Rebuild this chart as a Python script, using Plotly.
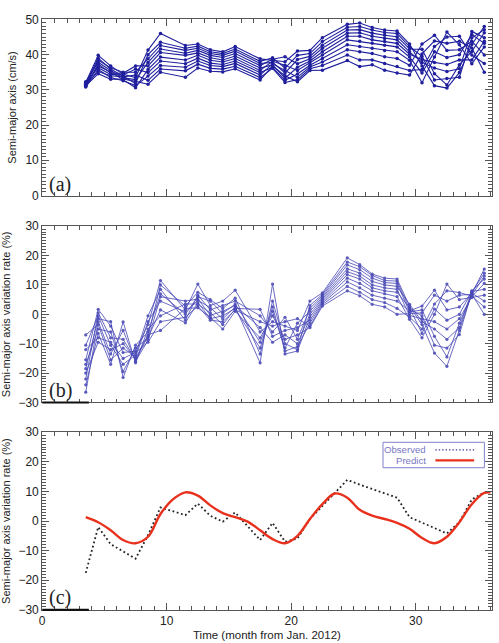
import plotly.graph_objects as go

# ---------------- data ----------------
months = [3.5, 4.5, 5.5, 6.5, 7.5, 8.5, 9.5, 11.5, 12.5, 13.5, 14.5, 15.5,
          17.5, 18.5, 19.5, 20.5, 21.5, 22.5, 24.5, 25.5, 26.5, 27.5, 28.5,
          29.5, 30.5, 31.5, 32.5, 33.5, 34.5, 35.5]

# (a) semi-major axis (cm/s), one list per depth layer
a0 = [32.1,39.8,36.8,34.4,33.5,41.3,46.0,42.6,43.0,41.4,40.8,42.3,38.8,38.4,38.0,41.0,41.2,44.8,48.6,49.0,47.7,47.0,46.7,43.0,36.8,31.2,30.5,34.9,42.9,48.0]
a1 = [31.8,39.0,35.9,33.9,31.8,40.0,43.5,41.8,42.4,40.8,40.3,41.6,38.1,39.1,36.2,39.8,40.3,43.7,47.8,48.0,47.0,46.3,46.0,42.3,39.5,32.8,33.2,33.6,44.8,47.1]
a2 = [31.4,38.4,36.3,35.0,35.0,38.8,42.6,41.2,41.8,40.3,39.8,41.0,37.5,37.8,34.8,38.6,39.5,42.7,47.0,47.1,46.1,45.5,45.1,41.6,41.5,34.6,31.4,37.1,40.9,46.2]
a3 = [32.3,37.8,35.5,33.4,32.9,37.8,41.6,40.4,41.2,39.8,39.2,40.3,36.9,38.7,39.4,37.4,38.8,41.8,46.1,46.2,45.2,44.6,44.2,40.8,37.8,36.2,35.2,36.0,46.6,44.8]
a4 = [31.0,37.3,34.8,34.7,36.8,36.8,40.6,39.8,40.5,39.1,38.5,39.6,36.2,37.1,33.3,36.4,38.2,40.8,45.2,45.2,44.2,43.7,43.2,40.1,38.6,37.8,37.2,38.5,38.5,43.8]
a5 = [31.3,36.8,35.1,32.9,30.6,35.8,39.3,38.5,39.8,38.4,37.9,38.9,35.5,38.1,37.0,35.5,37.6,39.9,44.2,43.8,43.2,42.7,42.2,39.3,34.8,40.8,39.2,40.0,45.7,43.2]
a6 = [31.9,36.3,34.4,34.2,35.9,34.9,38.2,37.4,39.0,37.6,37.2,38.2,34.9,36.4,32.7,34.5,37.0,38.9,42.8,42.3,41.8,41.2,40.8,38.4,32.0,39.3,46.4,42.8,37.4,42.2]
a7 = [30.8,35.8,33.5,32.6,31.2,33.9,36.9,36.4,38.2,36.9,36.6,37.5,34.2,37.4,35.5,33.6,36.5,37.9,41.4,40.8,40.3,39.4,38.9,37.0,43.0,45.5,41.2,41.4,43.8,39.9]
a8 = [31.6,35.2,34.0,33.7,34.2,32.7,35.9,35.4,37.3,36.1,35.9,36.7,33.5,36.1,32.1,32.9,36.0,36.9,39.9,38.5,38.5,37.5,36.6,35.5,35.8,42.3,45.0,45.2,39.9,37.5]
a9 = [31.1,34.6,33.0,33.1,32.4,31.6,35.0,33.6,36.2,35.3,35.1,36.0,32.8,36.8,34.0,32.3,35.5,35.6,38.3,36.6,37.1,35.6,34.8,34.2,40.2,43.9,43.2,43.8,41.9,35.0]

# (b) semi-major axis variation rate (%)
b0 = [-15.5,1.7,-4,-13,-12.5,-3.5,11.5,1.5,10.3,3.0,4.5,8.2,-6.0,-2.5,-4.0,-5.5,4.5,7.3,19.2,16.9,13.7,12.3,12.0,2.8,-3.5,-13.2,-17.7,-5.5,7.0,15.4]
b1 = [-22,0.5,-8,-8.5,-15.5,-7.5,10,2.8,7.5,5.0,2.0,5.5,-13.5,4.5,-10.0,-12.0,3.0,6.8,17.8,16.2,13.2,11.5,11.3,1.8,-0.5,-10.5,-11.5,-6.9,7.5,14.0]
b2 = [-10.5,-0.5,-10.5,-17,-13.8,-0.5,8.5,-2,6.5,1.5,3.0,4.5,-0.5,-6.0,-1.0,-8.5,2.0,6.3,16.8,15.2,12.3,10.8,10.5,0.8,1.5,-7.5,-14.5,-3.0,6.5,13.0]
b3 = [-18.5,-1.5,-2.5,-21.5,-10.5,-6,7,0,6.0,4.5,0.3,3.5,-9.5,1.0,-11.5,-3.0,1.0,5.8,15.5,14.0,11.2,10.0,9.5,3.4,-2.5,-5.0,-8.5,-4.5,8.0,12.0]
b4 = [-26.5,-2.5,-13.5,-5.5,-16,-8.8,6,4.5,5.2,-0.3,1.0,3.0,-4.5,-9.5,-7.0,-10.0,0.0,5.3,14.5,13.0,10.0,9.0,8.5,-0.4,-1.5,-2.5,-5.0,-1.5,6.0,10.5]
b5 = [-7,-3.5,-15.5,-11.5,-14.5,-2.5,4.5,0.8,4.8,2.2,-1.5,2.5,-16.5,10.3,-13.5,-12.5,-1.0,4.8,13.5,12.0,9.0,8.0,7.5,2.2,-6.5,1.8,-2.0,0.0,7.8,8.5]
b6 = [-17,-5,-6,-19.5,-11.5,-8,1.5,-2.9,4.0,-1.5,-0.5,2.0,1.7,-7.5,-5.5,-4.5,-2.0,4.3,12.3,10.5,8.0,7.0,6.0,-1.7,-8.0,0.0,10.3,5.0,5.7,6.5]
b7 = [-24,-6.5,-17,-2.6,-16.5,-5,-0.5,3.5,3.5,0.5,-3.5,1.8,-11.5,2.5,-12.5,-11.0,-3.0,3.8,11.0,9.0,6.5,5.5,4.5,1.2,2.8,8.2,1.5,2.5,7.2,4.5]
b8 = [-12,-8,-9.5,-15,-13,-9.5,-2.5,-1,2.8,-2.0,-2.5,1.5,-2.5,-4.0,-2.5,-1.5,-4.0,3.3,9.5,7.5,5.0,4.0,2.0,-1.0,-5.0,3.5,8.0,7.4,6.2,2.5]
b9 = [-20,-9.5,-12,-10,-15,-7,-5.5,2,2.2,-1,-5.0,1.0,-8.0,-0.5,-8.5,-7.0,-4.5,2.8,8.0,6.3,3.4,2.5,0.0,0.2,0.5,6.5,4.5,6.5,6.8,0.0]

# (c) observed vs predicted variation rate (%)
obs_x = [3.5, 4.5, 5.5, 6.5, 7.5, 8.5, 9.5, 11.5, 12.5, 13.5, 14.5, 15.5, 17.5,
         18.5, 19.5, 20.5, 21.5, 22.5, 24.5, 25.5, 28.5, 29.5, 32.5, 33.5, 34.5, 35.5]
obs_y = [-17.5, -2.0, -7.8, -10.3, -12.7, -4.8, 4.6, 2.0, 5.9, 1.8, -0.2, 2.9, -6.4,
         -0.6, -7.0, -5.9, 0.7, 5.1, 13.9, 12.3, 7.9, 1.3, -4.2, -0.4, 7.3, 9.7]
pred_x = [3.5, 4.5, 5.5, 6.5, 7.5, 8.5, 9.5, 10.5, 11.5, 12.5, 13.5, 14.5, 15.5,
          16.5, 17.5, 18.5, 19.5, 20.5, 21.5, 22.5, 23.5, 24.5, 25.5, 26.5, 27.5,
          28.5, 29.5, 30.5, 31.5, 32.5, 33.5, 34.5, 35.5, 36.0]
pred_y = [1.3, -0.4, -3.1, -6.4, -7.5, -5.3, 2.4, 7.3, 9.7, 8.6, 5.3, 2.7, 1.3,
          -0.2, -3.1, -6.1, -7.5, -5.0, 0.7, 5.7, 9.3, 7.9, 3.8, 1.8, 0.7,
          -0.6, -2.6, -5.7, -7.5, -5.3, -0.4, 5.7, 9.5, 9.7]

x_ticks = [0, 10, 20, 30]
a_ticks = [0, 10, 20, 30, 40, 50]
b_ticks = [-30, -20, -10, 0, 10, 20, 30]

# ---------------- figure ----------------
A = [a0, a1, a2, a3, a4, a5, a6, a7, a8, a9]
B = [b0, b1, b2, b3, b4, b5, b6, b7, b8, b9]

fig = go.Figure()
cA = "#1f1f9e"
cB = "#4a4ab8"
for s in A:
    fig.add_trace(go.Scatter(x=months, y=s, xaxis="x", yaxis="y", mode="lines+markers",
                             line=dict(color=cA, width=1.1), marker=dict(size=3.5, color=cA),
                             showlegend=False, hoverinfo="skip"))
for s in B:
    fig.add_trace(go.Scatter(x=months, y=s, xaxis="x2", yaxis="y2", mode="lines+markers",
                             line=dict(color=cB, width=0.9), marker=dict(size=3.2, color=cB),
                             opacity=0.9, showlegend=False, hoverinfo="skip"))
fig.add_trace(go.Scatter(x=obs_x, y=obs_y, xaxis="x3", yaxis="y3", mode="lines",
                         line=dict(color="#222222", width=1.8, dash="1.8px,2.6px"),
                         showlegend=False, hoverinfo="skip"))
fig.add_trace(go.Scatter(x=pred_x, y=pred_y, xaxis="x3", yaxis="y3", mode="lines",
                         line=dict(color="#e8311d", width=2.4, shape="spline", smoothing=1.0),
                         showlegend=False, hoverinfo="skip"))

W, H = 499, 643
xd = [39.4 / W, 491.7 / W]
def yd(top, bot):
    return [1 - bot / H, 1 - top / H]

FONT = "Liberation Sans, Arial, sans-serif"
axcol = "#555555"

def xax(anchor, labels, title=None):
    d = dict(domain=xd, anchor=anchor, range=[0, 36.1], showline=True, linecolor=axcol,
             linewidth=1, mirror="allticks", ticks="inside", ticklen=7, tickcolor=axcol,
             tickvals=x_ticks, showticklabels=labels, showgrid=False, zeroline=False,
             tickfont=dict(family=FONT, size=12, color="#222"),
             minor=dict(ticks="inside", ticklen=3.5, dtick=1, tick0=0, tickcolor=axcol, showgrid=False))
    if title:
        d["title"] = dict(text=title, font=dict(family=FONT, size=11.5, color="#222"), standoff=3)
    return d

def yax(anchor, dom, rng, tv, title):
    return dict(domain=dom, anchor=anchor, range=rng, showline=True, linecolor=axcol,
                linewidth=1, mirror="allticks", ticks="inside", ticklen=7, tickcolor=axcol,
                tickvals=tv, showgrid=False, zeroline=False,
                tickfont=dict(family=FONT, size=12, color="#222"),
                minor=dict(ticks="inside", ticklen=3.5, dtick=1, tickcolor=axcol, showgrid=False),
                title=dict(text=title, font=dict(family=FONT, size=11, color="#222"), standoff=6))

fig.update_layout(
    width=W, height=H, margin=dict(l=0, r=0, t=0, b=0),
    paper_bgcolor="white", plot_bgcolor="white",
    xaxis=xax("y", False),
    xaxis2=xax("y2", False),
    xaxis3=xax("y3", True, "Time (month from Jan. 2012)"),
    yaxis=yax("x", yd(12.7, 192.7), [0, 50], a_ticks, "Semi-major axis (cm/s)"),
    yaxis2=yax("x2", yd(224, 404.3), [-30, 30], b_ticks, "Semi-major axis variation rate (%)"),
    yaxis3=yax("x3", yd(434.7, 616.3), [-30, 30], b_ticks, "Semi-major axis variation rate (%)"),
)

# panel labels
for lab, yc in [("(a)", 181.5), ("(b)", 392.5), ("(c)", 604.0)]:
    fig.add_annotation(text=lab, x=44 / W, y=1 - yc / H, xref="paper", yref="paper",
                       xanchor="left", yanchor="middle", showarrow=False,
                       font=dict(family="Liberation Serif", size=20, color="#222"))

# thick axis segment at the bottom-left of panels (b) and (c)
for xr, yr in [("x2", "y2 domain"), ("x3", "y3 domain")]:
    fig.add_shape(type="line", xref=xr, yref=yr, x0=0, x1=3.75, y0=0, y1=0,
                  line=dict(color="#111", width=2.2))

# legend box for panel (c)
lc = "#8080cc"
fig.add_shape(type="rect", xref="paper", yref="paper",
              x0=382.3 / W, x1=484.3 / W, y0=1 - 471 / H, y1=1 - 445 / H,
              line=dict(color=lc, width=1), fillcolor="white", layer="below")
fig.add_annotation(text="Observed", x=427.5 / W, y=1 - 452.7 / H, xref="paper", yref="paper",
                   xanchor="right", yanchor="middle", showarrow=False,
                   font=dict(family=FONT, size=9.6, color="#7777c4"))
fig.add_annotation(text="Predict", x=427.5 / W, y=1 - 463.5 / H, xref="paper", yref="paper",
                   xanchor="right", yanchor="middle", showarrow=False,
                   font=dict(family=FONT, size=9.6, color="#7777c4"))
fig.add_shape(type="line", xref="paper", yref="paper", x0=435 / W, x1=474 / W,
              y0=1 - 452.7 / H, y1=1 - 452.7 / H, line=dict(color="#3a3aa0", width=1.4, dash="1.4px,2px"))
fig.add_shape(type="line", xref="paper", yref="paper", x0=435 / W, x1=474 / W,
              y0=1 - 463.5 / H, y1=1 - 463.5 / H, line=dict(color="#e8311d", width=2.4))

fig.write_html("out.html")
